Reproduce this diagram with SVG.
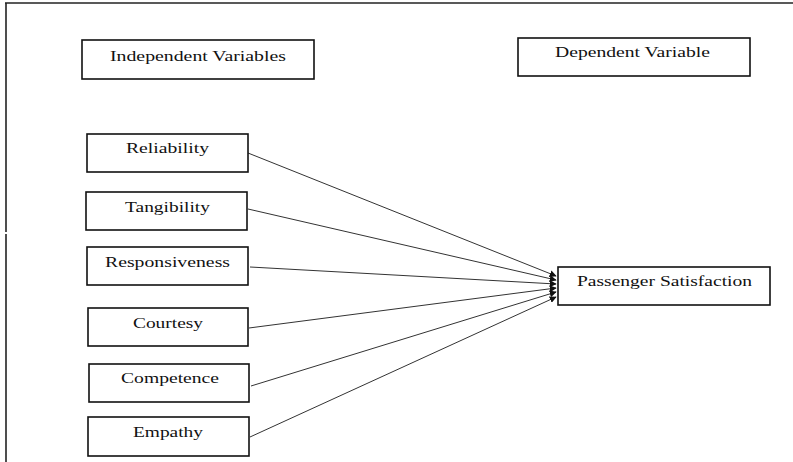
<svg xmlns="http://www.w3.org/2000/svg" width="793" height="462" viewBox="0 0 793 462">
<style>
.box{fill:#fff;stroke:#111;stroke-width:1.6}
.t{font-family:"Liberation Serif","DejaVu Serif","Times New Roman",serif;font-size:15px;fill:#111}
.c{stroke:#333;stroke-width:1;fill:none;marker-end:url(#ah)}
.frame{stroke:#222;stroke-width:1.6;fill:none}
</style>
<defs>
<marker id="ah" viewBox="0 0 10 10" refX="9" refY="5" markerWidth="7" markerHeight="7" markerUnits="userSpaceOnUse" orient="auto">
<path d="M0,0 L10,5 L0,10 z" fill="#111"/>
</marker>
</defs>
<rect width="793" height="462" fill="#fff"/>
<g id="frame">
<line class="frame" x1="5" y1="3" x2="793" y2="3"/>
<line class="frame" x1="6" y1="3" x2="6" y2="232"/>
<line class="frame" x1="6" y1="234" x2="6" y2="462"/>
</g>
<g id="connectors">
<line class="c" x1="248" y1="153" x2="556" y2="276"/>
<line class="c" x1="248" y1="209" x2="556" y2="280"/>
<line class="c" x1="250" y1="267" x2="556" y2="284"/>
<line class="c" x1="249" y1="328" x2="556" y2="288"/>
<line class="c" x1="251" y1="386" x2="556" y2="292"/>
<line class="c" x1="250" y1="437" x2="556" y2="297"/>
</g>
<g id="independent-variables">
<rect class="box" x="82" y="40" width="232" height="39"/>
<text class="t" font-family="Liberation Serif, DejaVu Serif, serif" x="110" y="61" textLength="176" lengthAdjust="spacingAndGlyphs">Independent Variables</text>
</g>
<g id="dependent-variable">
<rect class="box" x="518" y="38" width="232" height="38"/>
<text class="t" font-family="Liberation Serif, DejaVu Serif, serif" x="555" y="57" textLength="155" lengthAdjust="spacingAndGlyphs">Dependent Variable</text>
</g>
<g id="reliability">
<rect class="box" x="87" y="134" width="161" height="38"/>
<text class="t" font-family="Liberation Serif, DejaVu Serif, serif" x="126" y="153" textLength="83" lengthAdjust="spacingAndGlyphs">Reliability</text>
</g>
<g id="tangibility">
<rect class="box" x="86" y="192" width="161" height="38"/>
<text class="t" font-family="Liberation Serif, DejaVu Serif, serif" x="125" y="212" textLength="85" lengthAdjust="spacingAndGlyphs">Tangibility</text>
</g>
<g id="responsiveness">
<rect class="box" x="87" y="247" width="161" height="38"/>
<text class="t" font-family="Liberation Serif, DejaVu Serif, serif" x="105" y="267" textLength="125" lengthAdjust="spacingAndGlyphs">Responsiveness</text>
</g>
<g id="courtesy">
<rect class="box" x="88" y="308" width="160" height="38"/>
<text class="t" font-family="Liberation Serif, DejaVu Serif, serif" x="133" y="328" textLength="70" lengthAdjust="spacingAndGlyphs">Courtesy</text>
</g>
<g id="competence">
<rect class="box" x="89" y="364" width="160" height="38"/>
<text class="t" font-family="Liberation Serif, DejaVu Serif, serif" x="121" y="383" textLength="98" lengthAdjust="spacingAndGlyphs">Competence</text>
</g>
<g id="empathy">
<rect class="box" x="88" y="417" width="161" height="39"/>
<text class="t" font-family="Liberation Serif, DejaVu Serif, serif" x="133" y="437" textLength="70" lengthAdjust="spacingAndGlyphs">Empathy</text>
</g>
<g id="passenger-satisfaction">
<rect class="box" x="558" y="267" width="212" height="38"/>
<text class="t" font-family="Liberation Serif, DejaVu Serif, serif" x="577" y="286" textLength="175" lengthAdjust="spacingAndGlyphs">Passenger Satisfaction</text>
</g>
</svg>
